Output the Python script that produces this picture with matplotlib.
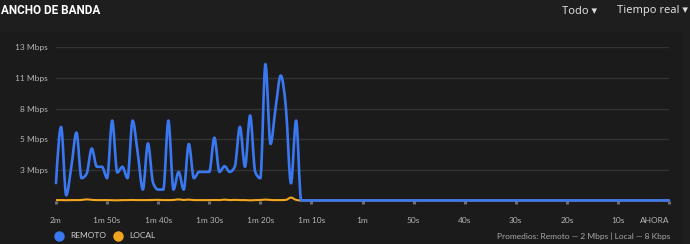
import numpy as np
import matplotlib
matplotlib.use("Agg")
from matplotlib import pyplot as plt
from matplotlib.path import Path
from matplotlib.patches import PathPatch, Rectangle
from matplotlib.lines import Line2D

plt.rcParams['font.family'] = ['Lato', 'DejaVu Sans']

# seconds before now, one sample per second
seconds = list(range(-120, 1))

# REMOTO, Mbps
remoto_head = [1.57, 6.5, 0.5, 3.0, 6.0, 2.0, 2.4, 4.6, 3.0, 3.0,
               2.0, 7.05, 2.5, 3.0, 2.0, 7.05, 4.2, 1.0, 5.05, 1.6,
               1.0, 1.0, 7.05, 1.0, 2.55, 1.0, 5.0, 2.0, 2.55, 2.55,
               2.55, 5.55, 2.55, 3.05, 2.55, 3.0, 6.5, 3.0, 7.5, 2.55,
               2.0, 12.0, 5.0, 8.2, 11.0, 8.2, 1.55, 7.05, 0.05]
remoto = remoto_head + [0.05] * (len(seconds) - len(remoto_head))

# LOCAL, Mbps
local_head = [0.08, 0.08, 0.07, 0.08, 0.08, 0.09, 0.14, 0.10, 0.08, 0.08,
              0.08, 0.07, 0.06, 0.08, 0.08, 0.09, 0.08, 0.08, 0.08, 0.09,
              0.10, 0.08, 0.08, 0.09, 0.14, 0.09, 0.12, 0.08, 0.08, 0.08,
              0.08, 0.09, 0.08, 0.12, 0.08, 0.10, 0.08, 0.08, 0.06, 0.08,
              0.09, 0.12, 0.09, 0.08, 0.08, 0.10, 0.30, 0.10, 0.05]
local = local_head + [0.05] * (len(seconds) - len(local_head))

y_ticks = [2.7, 5.4, 8.1, 10.8, 13.5]
y_labels = ['3 Mbps', '5 Mbps', '8 Mbps', '11 Mbps', '13 Mbps']
x_ticks = list(range(-120, 1, 10))
x_labels = ['2m', '1m 50s', '1m 40s', '1m 30s', '1m 20s', '1m 10s', '1m',
            '50s', '40s', '30s', '20s', '10s', 'AHORA']

BLUE = '#3a78f2'
ORANGE = '#f2a51e'
SMALL = 6.0


def monotone_path(x, y):
    # monotone cubic (like d3 curveMonotoneX) as bezier path
    x = np.asarray(x, float)
    y = np.asarray(y, float)
    h = np.diff(x)
    s = np.diff(y) / h
    m = np.zeros(len(x))
    for i in range(1, len(x) - 1):
        if s[i - 1] * s[i] <= 0:
            m[i] = 0
        else:
            p = (s[i - 1] * h[i] + s[i] * h[i - 1]) / (h[i - 1] + h[i])
            m[i] = np.sign(s[i - 1]) * min(abs(s[i - 1]), abs(s[i]), 0.5 * abs(p)) * 2
    m[0] = (3 * s[0] - m[1]) / 2
    m[-1] = (3 * s[-1] - m[-2]) / 2
    verts = [(x[0], y[0])]
    codes = [Path.MOVETO]
    for i in range(len(x) - 1):
        d = h[i] / 3
        verts += [(x[i] + d, y[i] + m[i] * d),
                  (x[i + 1] - d, y[i + 1] - m[i + 1] * d),
                  (x[i + 1], y[i + 1])]
        codes += [Path.CURVE4] * 3
    return Path(verts, codes)


fig = plt.figure(figsize=(6.9, 2.44), dpi=100)
fig.patch.set_facecolor('#1e1e1e')
fig.add_artist(Rectangle((0, 0), 683 / 690, (244 - 32) / 244, transform=fig.transFigure,
                         facecolor='#1b1b1b', edgecolor='none', zorder=0))

ax = fig.add_axes([56 / 690, (244 - 201) / 244, 613 / 690, 154 / 244])
ax.set_facecolor('none')
ax.set_xlim(-120, 0)
ax.set_ylim(0, 13.5)
for s in ax.spines.values():
    s.set_visible(False)

ax.set_yticks(y_ticks)
ax.set_yticklabels(y_labels)
ax.tick_params(axis='y', length=0, pad=6, labelsize=SMALL, labelcolor='#b5b5b5')
ax.grid(axis='y', color='#333333', linewidth=1)
ax.set_axisbelow(True)

ax.set_xticks(x_ticks)
ax.set_xticklabels(x_labels)
ax.tick_params(axis='x', length=2.2, width=2.2, color='#6e6e6e', pad=9,
               labelsize=SMALL, labelcolor='#b5b5b5')
ax.get_xticklabels()[-1].set_ha('right')
ax.get_xticklabels()[-1].set_x(0.6)

ax.add_patch(PathPatch(monotone_path(seconds, local), fill=False, edgecolor=ORANGE,
                       linewidth=1.5, clip_on=False, zorder=3))
ax.add_patch(PathPatch(monotone_path(seconds, remoto), fill=False, edgecolor=BLUE,
                       linewidth=1.9, clip_on=False, zorder=4, capstyle='round',
                       joinstyle='round'))

# header
fig.text(1 / 690, 1 - 11 / 244, 'ANCHO DE BANDA', fontsize=8.5, fontweight='bold',
         color='white', va='center', ha='left', family=['Roboto', 'DejaVu Sans'])
fig.text(597 / 690, 1 - 11 / 244, 'Todo ▾', fontsize=8, color='#dddddd', va='center',
         ha='right', family=['Noto Sans', 'DejaVu Sans'])
fig.text(688 / 690, 1 - 11 / 244, 'Tiempo real ▾', fontsize=8, color='#dddddd',
         va='center', ha='right', family=['Noto Sans', 'DejaVu Sans'])

# legend
yl = 1 - 236 / 244
fig.add_artist(Line2D([59 / 690], [yl], marker='o', markersize=6.5, color=BLUE,
                      linestyle='none', transform=fig.transFigure))
fig.text(70 / 690, yl, 'REMOTO', fontsize=SMALL, color='#cfcfcf', va='center')
fig.add_artist(Line2D([118 / 690], [yl], marker='o', markersize=6.5, color=ORANGE,
                      linestyle='none', transform=fig.transFigure))
fig.text(129 / 690, yl, 'LOCAL', fontsize=SMALL, color='#cfcfcf', va='center')

fig.text(670 / 690, yl, 'Promedios: Remoto — 2 Mbps | Local — 8 Kbps', fontsize=SMALL,
         color='#a8a8a8', va='center', ha='right')

fig.savefig('out.png', dpi=100, facecolor=fig.get_facecolor())
